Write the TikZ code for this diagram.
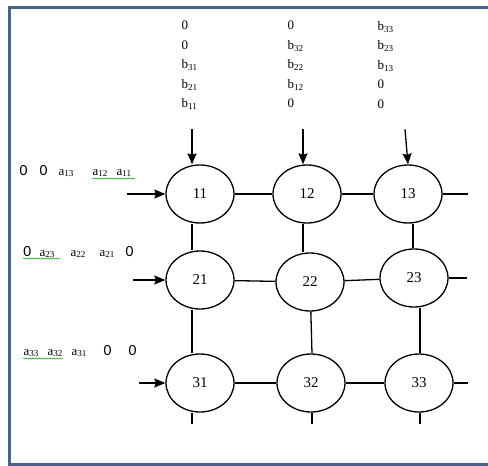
\documentclass[tikz,border=0pt]{standalone}
\usepackage{fontspec}
\setmainfont{Liberation Serif}
\newfontfamily\carlito{Carlito}
\usetikzlibrary{arrows.meta,shapes.geometric,decorations.pathmorphing}

\definecolor{frameblue}{RGB}{68,100,148}
\newcommand{\zr}{{\carlito\fontsize{15.5}{17}\selectfont 0}}
\newcommand{\ent}[2]{#1\textsubscript{#2}}
\newcommand{\slot}[2]{\makebox[#1][l]{#2}}

\begin{document}
\begin{tikzpicture}[>={Stealth[length=11pt,width=9pt,inset=1.5pt]},x=1pt,y=-1pt,line width=1.3pt,
  pe node/.style={ellipse,draw,minimum width=68pt,minimum height=58pt,inner sep=0pt,font=\fontsize{15}{17}\selectfont},
  feed/.style={inner sep=0pt,anchor=north west,align=left,font=\fontsize{13}{19.5}\selectfont},
  row/.style={inner sep=0pt,anchor=base west,font=\fontsize{13}{15}\selectfont},
  spell/.style={draw=green!60!black,line width=0.5pt,decorate,decoration={snake,amplitude=0.6pt,segment length=3pt}}]

  \useasboundingbox (0,0) rectangle (488,466);
  \clip (0,0) rectangle (488,466);
  \draw[frameblue,line width=3.6pt] (500,7.5) -| (9.3,464.5) -- (500,464.5);

  % processing elements
  \node[pe node] (p11) at (200,194) {11};
  \node[pe node] (p12) [right of=p11, node distance=107pt] {12};
  \node[pe node] (p13) [right of=p12, node distance=101pt] {13};
  \node[pe node] (p21) [below of=p11, node distance=86pt] {21};
  \node[pe node] (p22) [right of=p21, node distance=110pt, yshift=-2pt] {22};
  \node[pe node] (p23) [right of=p22, node distance=104pt, yshift=4pt] {23};
  \node[pe node] (p31) [below of=p21, node distance=103pt] {31};
  \node[pe node] (p32) [right of=p31, node distance=111pt] {32};
  \node[pe node] (p33) [right of=p32, node distance=108pt] {33};

  % free ends
  \coordinate (e1) at ([xshift=25pt]p13.east);
  \coordinate (e2) at ([xshift=18pt]p23.east);
  \coordinate (e3) at ([xshift=14pt]p33.east);
  \coordinate (s1) at ([xshift=-8pt,yshift=-11pt]p31.south);
  \coordinate (s2) at ([xshift=1pt,yshift=-11pt]p32.south);
  \coordinate (s3) at ([xshift=1pt,yshift=-11pt]p33.south);
  \coordinate (t1) at ([xshift=-8pt,yshift=35pt]p11.north);
  \coordinate (t2) at ([xshift=-4pt,yshift=35pt]p12.north);
  \coordinate (t3) at ([xshift=-3pt,yshift=35pt]p13.north);
  \coordinate (l1) at ([xshift=-38pt]p11.west);
  \coordinate (l2) at ([xshift=-32pt]p21.west);
  \coordinate (l3) at ([xshift=-26pt]p31.west);

  \path
    (p11) edge (p12)
    (p12) edge (p13)
    (p13) edge (e1)
    (p21) edge (p22)
    (p22) edge (p23)
    (p23) edge (e2)
    (p31) edge (p32)
    (p32) edge (p33)
    (p33) edge (e3)
    ([xshift=-8pt]p11.south) edge ([xshift=-8pt]p21.north)
    ([xshift=-8pt]p21.south) edge ([xshift=-8pt]p31.north)
    ([xshift=-8pt]p31.south) edge (s1)
    ([xshift=-4pt]p12.south) edge ([xshift=-7pt]p22.north)
    (p22) edge ([xshift=1pt]p32.north)
    ([xshift=1pt]p32.south) edge (s2)
    ([xshift=5pt]p13.south) edge ([xshift=-1pt]p23.north)
    ([xshift=6pt]p23.south) edge ([xshift=1pt]p33.north)
    ([xshift=1pt]p33.south) edge (s3);

  % inputs
  \path[->]
    (t1) edge ([xshift=-8pt]p11.north)
    (t2) edge ([xshift=-4pt]p12.north)
    (t3) edge (p13.north)
    (l1) edge (p11.west)
    (l2) edge (p21.west)
    (l3) edge (p31.west);

  % b columns
  \node[feed] (bcol1) at (181,20.5) {0\\0\\\ent{b}{31}\\\ent{b}{21}\\\ent{b}{11}};
  \node[feed] (bcol2) at (287,20.5) {0\\\ent{b}{32}\\\ent{b}{22}\\\ent{b}{12}\\0};
  \node[feed] (bcol3) at (377,20.5) {\ent{b}{33}\\\ent{b}{23}\\\ent{b}{13}\\0\\0};

  % a rows
  \node[row] (arow1) at (19,175) {\slot{20pt}{\zr}\slot{19pt}{\zr}\slot{34pt}{\ent{a}{13}}\slot{24pt}{\ent{a}{12}}\ent{a}{11}};
  \node[row] (arow2) at (22.7,256) {\slot{16.3pt}{\zr}\slot{31pt}{\ent{a}{23}}\slot{29pt}{\ent{a}{22}}\slot{26pt}{\ent{a}{21}}\zr};
  \node[row] (arow3) at (23,355) {\slot{24pt}{\ent{a}{33}}\slot{24pt}{\ent{a}{32}}\slot{32pt}{\ent{a}{31}}\slot{25pt}{\zr}\zr};
  \draw[spell] (92,178.5) -- (135,178.5);
  \draw[spell] (23,258.5) -- (60,258.5);
  \draw[spell] (23,358.5) -- (63,358.5);
\end{tikzpicture}
\end{document}
